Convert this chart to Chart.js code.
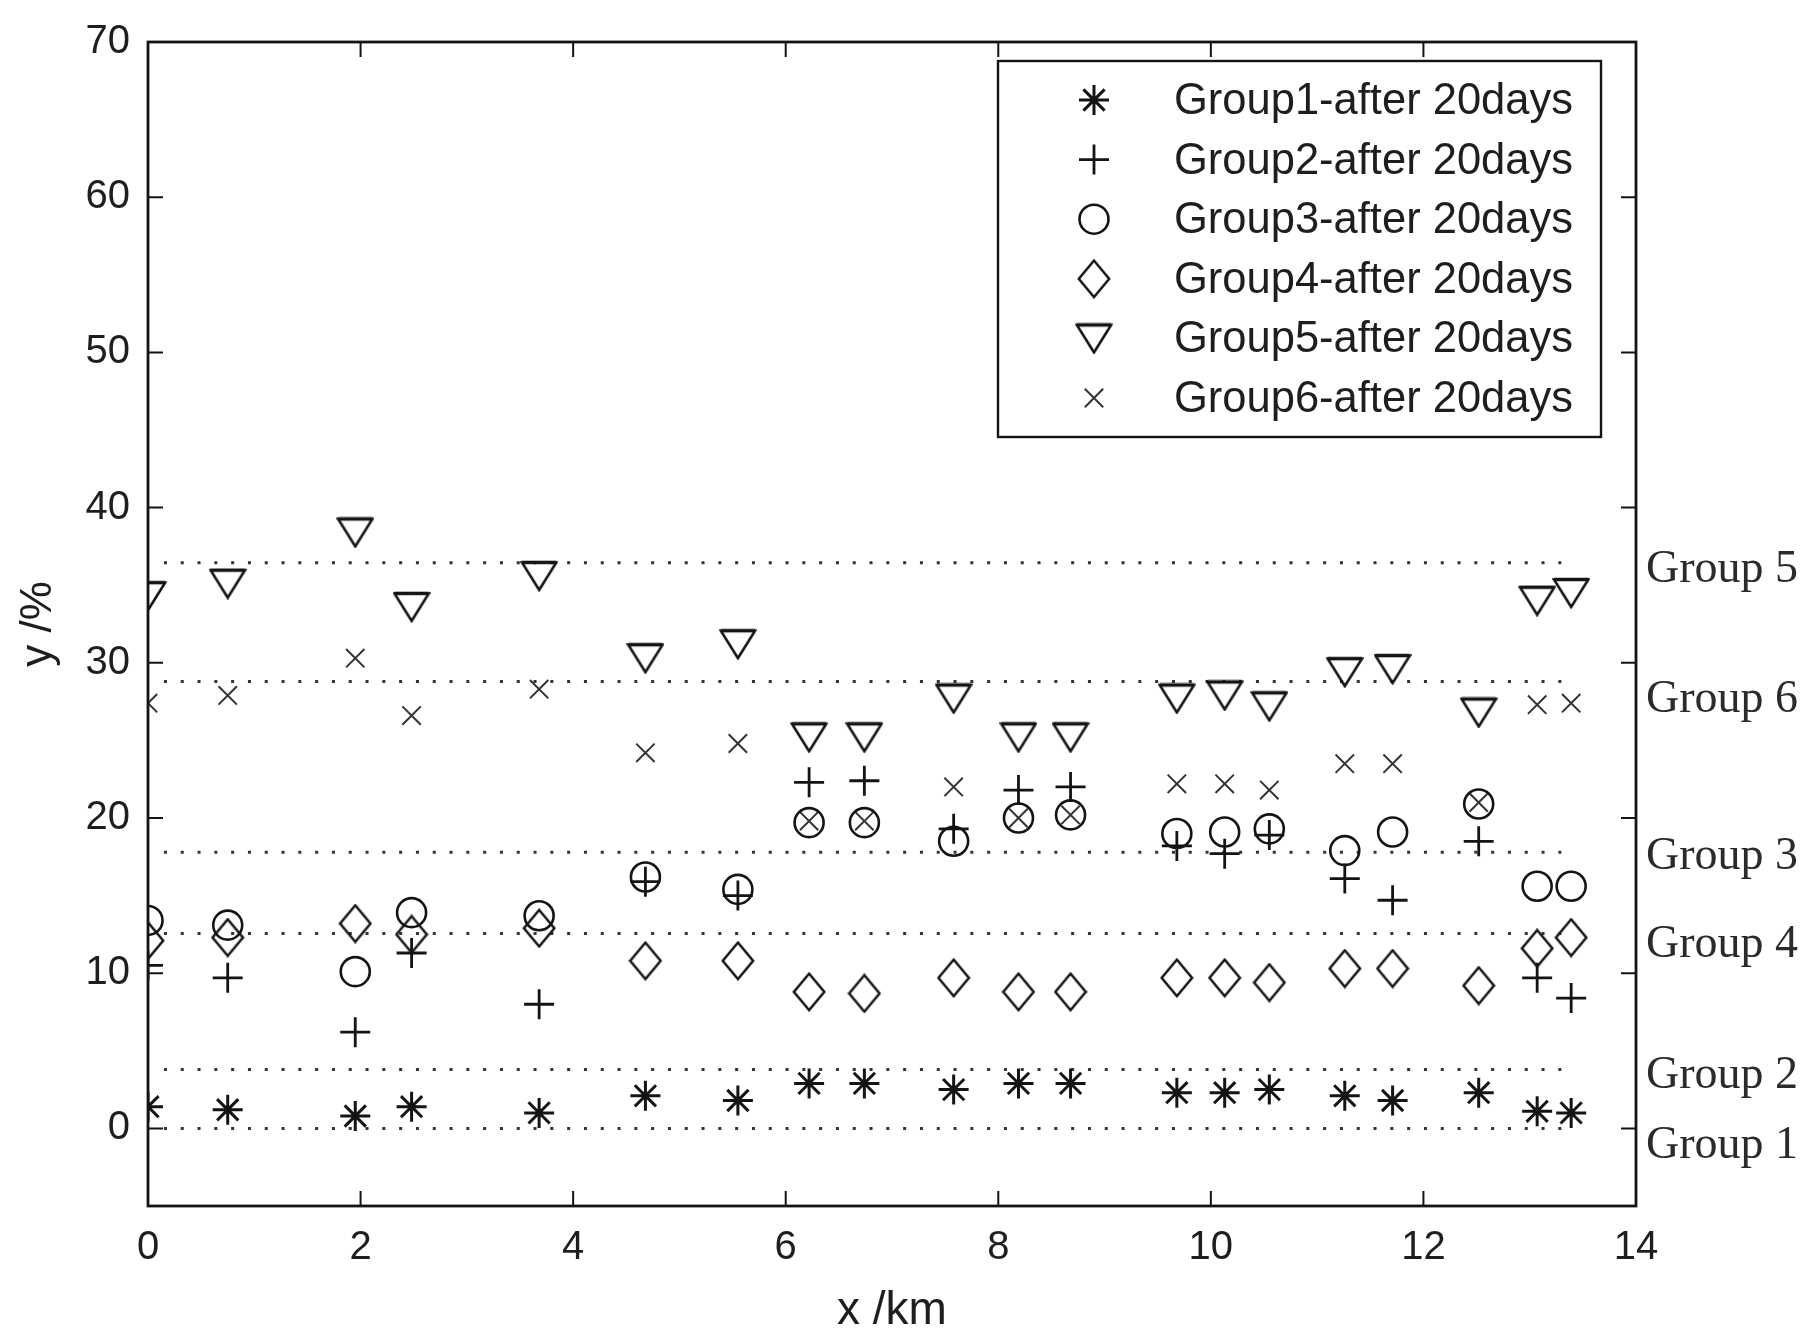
<!DOCTYPE html>
<html>
<head>
<meta charset="utf-8">
<title>Groups after 20 days</title>
<script src="https://cdn.jsdelivr.net/npm/chart.js@4.4.0/dist/chart.umd.min.js"></script>
<style>
    html, body { margin: 0; padding: 0; background: #fff; }
    #wrap { width: 1813px; height: 1332px; }
</style>
</head>
<body>
<div id="wrap"><canvas id="chart" width="1813" height="1332"></canvas></div>
<script>
// distance along the line, km
const xKm = [0, 0.75, 1.95, 2.48, 3.68, 4.68, 5.55, 6.22, 6.74, 7.58, 8.19, 8.68, 9.68, 10.13, 10.55, 11.26, 11.71, 12.52, 13.07, 13.39];

// y in % for each group
const group1 = [1.4, 1.2, 0.8, 1.4, 1.0, 2.1, 1.8, 2.9, 2.9, 2.5, 2.9, 2.9, 2.3, 2.3, 2.5, 2.1, 1.8, 2.3, 1.1, 1.0];
const group2 = [10.5, 9.7, 6.2, 11.3, 8.0, 15.9, 15.0, 22.3, 22.4, 19.3, 21.8, 22.0, 18.2, 17.7, 18.9, 16.1, 14.7, 18.5, 9.7, 8.4];
const group3 = [13.4, 13.1, 10.1, 13.9, 13.7, 16.2, 15.4, 19.7, 19.7, 18.5, 20.0, 20.2, 19.0, 19.1, 19.3, 17.9, 19.1, 20.9, 15.6, 15.6];
const group4 = [12.1, 12.3, 13.2, 12.5, 12.9, 10.8, 10.8, 8.8, 8.7, 9.7, 8.8, 8.8, 9.7, 9.7, 9.4, 10.3, 10.3, 9.2, 11.6, 12.3];
const group5 = [34.3, 35.1, 38.4, 33.6, 35.6, 30.3, 31.2, 25.2, 25.2, 27.7, 25.2, 25.2, 27.7, 27.9, 27.2, 29.4, 29.6, 26.8, 34.0, 34.5];
const group6 = [27.4, 27.9, 30.3, 26.6, 28.3, 24.2, 24.8, 19.8, 19.8, 22.0, 20.0, 20.2, 22.2, 22.2, 21.8, 23.5, 23.5, 21.0, 27.3, 27.4];

const seriesNames = ['Group1-after 20days', 'Group2-after 20days', 'Group3-after 20days',
                     'Group4-after 20days', 'Group5-after 20days', 'Group6-after 20days'];

// dotted group levels and their labels on the right
const refLevels = [36.45, 28.8, 17.8, 12.55, 3.8, 0];
const refFromX = 0.15;
const refToX = 13.35;
const levelLabels = ['Group 5', 'Group 6', 'Group 3', 'Group 4', 'Group 2', 'Group 1'];
const levelLabelY = [36.0, 27.6, 17.5, 11.8, 3.4, -1.1];

const xTicks = [0, 2, 4, 6, 8, 10, 12, 14];
const yTicks = [0, 10, 20, 30, 40, 50, 60, 70];

const INK = '#141414';

function makeDiamond() {
    const c = document.createElement('canvas');
    c.width = 34; c.height = 40;
    const g = c.getContext('2d');
    g.strokeStyle = INK;
    g.lineWidth = 2.5;
    g.beginPath();
    g.moveTo(17, 1.8);
    g.lineTo(32.2, 20);
    g.lineTo(17, 38.2);
    g.lineTo(1.8, 20);
    g.closePath();
    g.stroke();
    return c;
}

function makeTriangleDown() {
    const c = document.createElement('canvas');
    c.width = 38; c.height = 32;
    const g = c.getContext('2d');
    g.strokeStyle = INK;
    g.lineWidth = 2.6;
    g.beginPath();
    g.moveTo(1.8, 2.5);
    g.lineTo(36.2, 2.5);
    g.lineTo(19, 30);
    g.closePath();
    g.stroke();
    // top edge is drawn heavier in the original
    g.lineWidth = 3.6;
    g.beginPath();
    g.moveTo(1.8, 2.5);
    g.lineTo(36.2, 2.5);
    g.stroke();
    return c;
}

function pts(ys) {
    return xKm.map((x, i) => ({ x: x, y: ys[i] }));
}

const markerSets = [
    { label: seriesNames[0], data: pts(group1), pointStyle: 'star', pointRadius: 15, pointBorderWidth: 3 },
    { label: seriesNames[1], data: pts(group2), pointStyle: 'cross', pointRadius: 15, pointBorderWidth: 2.8 },
    { label: seriesNames[2], data: pts(group3), pointStyle: 'circle', pointRadius: 14.5, pointBorderWidth: 2.6 },
    { label: seriesNames[3], data: pts(group4), pointStyle: makeDiamond(), pointRadius: 18 },
    { label: seriesNames[4], data: pts(group5), pointStyle: makeTriangleDown(), pointRadius: 18 },
    { label: seriesNames[5], data: pts(group6), pointStyle: 'crossRot', pointRadius: 13, pointBorderWidth: 2 }
].map(d => Object.assign({
    type: 'scatter',
    showLine: false,
    borderColor: INK,
    pointBorderColor: d.label === seriesNames[5] ? '#333' : INK,
    pointBackgroundColor: 'rgba(0,0,0,0)',
    pointHoverRadius: d.pointRadius,
    order: 1
}, d));

const refSets = refLevels.map(v => ({
    type: 'line',
    label: 'level ' + v,
    data: [{ x: refFromX, y: v }, { x: refToX, y: v }],
    borderColor: '#333',
    borderWidth: 3,
    borderDash: [3, 13.8],
    borderCapStyle: 'butt',
    pointRadius: 0,
    fill: false,
    order: 5
}));

// box, inward ticks on all four sides, legend box, right-hand labels
const framePlugin = {
    id: 'frame',
    afterDatasetsDraw(chart) {
        const { ctx, chartArea: a, scales } = chart;
        const xs = scales.x, ys = scales.y;
        const tl = 15;
        ctx.save();
        ctx.strokeStyle = INK;
        ctx.lineWidth = 2;
        ctx.beginPath();
        xTicks.forEach(v => {
            const px = xs.getPixelForValue(v);
            ctx.moveTo(px, a.bottom); ctx.lineTo(px, a.bottom - tl);
            ctx.moveTo(px, a.top); ctx.lineTo(px, a.top + tl);
        });
        yTicks.forEach(v => {
            const py = ys.getPixelForValue(v);
            ctx.moveTo(a.left, py); ctx.lineTo(a.left + tl, py);
            ctx.moveTo(a.right, py); ctx.lineTo(a.right - tl, py);
        });
        ctx.stroke();
        ctx.lineWidth = 2.8;
        ctx.strokeRect(a.left, a.top, a.right - a.left, a.bottom - a.top);

        // group level labels outside the right edge
        ctx.fillStyle = '#2b2b2b';
        ctx.font = "46px 'Liberation Serif', 'DejaVu Serif', serif";
        ctx.textAlign = 'left';
        ctx.textBaseline = 'middle';
        levelLabels.forEach((t, i) => {
            ctx.fillText(t, a.right + 10, ys.getPixelForValue(levelLabelY[i]));
        });

        // legend box, top right inside the plot
        const box = { left: 998, top: 61, right: 1601, bottom: 437 };
        ctx.fillStyle = '#fff';
        ctx.fillRect(box.left, box.top, box.right - box.left, box.bottom - box.top);
        ctx.lineWidth = 2.4;
        ctx.strokeStyle = INK;
        ctx.strokeRect(box.left, box.top, box.right - box.left, box.bottom - box.top);
        const rowY0 = 100, rowStep = 59.6, symX = 1094, textX = 1174;
        ctx.font = "43.5px 'Liberation Sans', Arimo, sans-serif";
        ctx.textBaseline = 'middle';
        markerSets.forEach((d, i) => {
            const y = rowY0 + i * rowStep;
            ctx.strokeStyle = d.pointBorderColor;
            ctx.fillStyle = 'rgba(0,0,0,0)';
            ctx.lineWidth = d.pointBorderWidth || 2;
            if (Chart.helpers && Chart.helpers.drawPoint) {
                Chart.helpers.drawPoint(ctx, {
                    pointStyle: d.pointStyle,
                    radius: d.pointRadius,
                    rotation: 0,
                    borderWidth: d.pointBorderWidth || 2
                }, symX, y);
            }
            ctx.fillStyle = '#1e1e1e';
            ctx.fillText(d.label, textX, y + 2);
        });
        ctx.restore();
    }
};

const ctx = document.getElementById('chart').getContext('2d');
new Chart(ctx, {
    type: 'scatter',
    data: { datasets: markerSets.concat(refSets) },
    options: {
        responsive: false,
        animation: false,
        devicePixelRatio: 1,
        layout: { padding: { top: 33, right: 177, left: 0, bottom: 0 } },
        plugins: {
            legend: { display: false },
            tooltip: { enabled: false }
        },
        scales: {
            x: {
                type: 'linear',
                min: 0,
                max: 14,
                afterFit: s => { s.height = 126; },
                afterBuildTicks: s => { s.ticks = xTicks.map(v => ({ value: v })); },
                grid: { display: false, drawTicks: false },
                border: { display: false },
                ticks: {
                    padding: 18,
                    color: '#1e1e1e',
                    maxRotation: 0,
                    font: { family: "'Liberation Sans Narrow', 'Liberation Sans', sans-serif", size: 40 }
                },
                title: {
                    display: true,
                    text: 'x /km',
                    color: '#1e1e1e',
                    padding: { top: 0, bottom: 0 },
                    font: { family: "'Liberation Sans', sans-serif", size: 46, lineHeight: 0.9 }
                }
            },
            y: {
                type: 'linear',
                min: -5,
                max: 70,
                afterFit: s => { s.width = 148; },
                afterBuildTicks: s => { s.ticks = yTicks.map(v => ({ value: v })); },
                grid: { display: false, drawTicks: false },
                border: { display: false },
                ticks: {
                    padding: 18,
                    color: '#1e1e1e',
                    font: { family: "'Liberation Sans', sans-serif", size: 40 }
                },
                title: {
                    display: true,
                    text: 'y /%',
                    color: '#1e1e1e',
                    padding: { top: 17, bottom: 0 },
                    font: { family: "'Liberation Sans', sans-serif", size: 44, lineHeight: 1 }
                }
            }
        }
    },
    plugins: [framePlugin]
});
</script>
</body>
</html>
